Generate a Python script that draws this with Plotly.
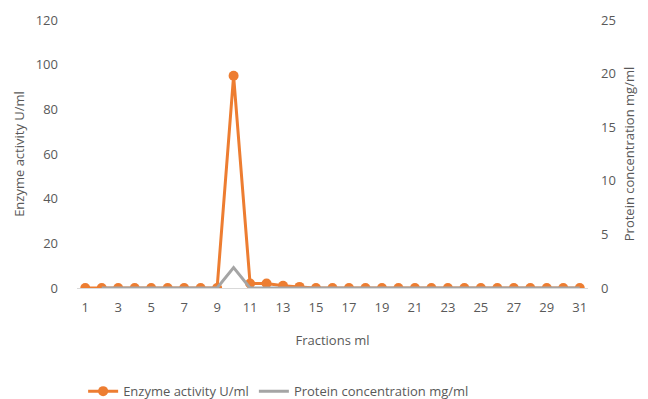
import plotly.graph_objects as go

fractions = list(range(1, 32))
enzyme_activity = [0, 0, 0, 0, 0, 0, 0, 0, 0, 95, 2, 2, 1, 0.5, 0, 0, 0, 0, 0, 0,
                   0, 0, 0, 0, 0, 0, 0, 0, 0, 0, 0]
protein_conc = [None, 0, 0, 0, 0, 0, 0, 0, 0, 1.9, 0, 0, 0, 0, 0, 0, 0, 0, 0, 0,
                0, 0, 0, 0, 0, 0, 0, 0, 0, 0, 0]
x_ticks = list(range(1, 32, 2))
left_ticks = [0, 20, 40, 60, 80, 100, 120]
right_ticks = [0, 5, 10, 15, 20, 25]

ORANGE = "#ED7D31"
GRAY = "#A5A5A5"
TXT = "#595959"
FONT = "Open Sans, Liberation Sans, sans-serif"

fig = go.Figure()
fig.add_trace(go.Scatter(
    x=fractions, y=enzyme_activity, name="Enzyme activity U/ml",
    mode="lines+markers", line=dict(color=ORANGE, width=3),
    marker=dict(color=ORANGE, size=10, symbol="circle"), yaxis="y"))
fig.add_trace(go.Scatter(
    x=fractions, y=protein_conc, name="Protein concentration mg/ml",
    mode="lines", line=dict(color=GRAY, width=3), yaxis="y2"))

fig.update_layout(
    width=648, height=399,
    margin=dict(l=69, r=68, t=12, b=119, autoexpand=False),
    paper_bgcolor="white", plot_bgcolor="white",
    font=dict(family=FONT, size=13, color=TXT),
    showlegend=True,
    legend=dict(orientation="h", x=0.012, xanchor="left", y=-0.385, yanchor="middle",
                font=dict(size=13, color=TXT), traceorder="normal"),
    xaxis=dict(range=[0.5, 31.5], tickmode="array", tickvals=x_ticks,
               showgrid=False, zeroline=False, showline=False, automargin=False,
               ticks="", ticklabelstandoff=10,
               title=dict(text="Fractions ml", font=dict(size=13, color=TXT), standoff=20)),
    yaxis=dict(range=[0, 120], tickmode="array", tickvals=left_ticks,
               showgrid=False, zeroline=True, zerolinecolor="#D9D9D9", zerolinewidth=1,
               showline=False, ticks="", ticklabelstandoff=18, automargin=False,
               title=dict(text="Enzyme activity U/ml", font=dict(size=13, color=TXT), standoff=8)),
    yaxis2=dict(range=[0, 25], tickmode="array", tickvals=right_ticks,
                overlaying="y", side="right", automargin=False,
                showgrid=False, zeroline=False, showline=False, ticks="",
                ticklabelstandoff=12,
                title=dict(text="Protein concentration mg/ml", font=dict(size=13, color=TXT), standoff=10)),
)

fig.write_html("out.html")
